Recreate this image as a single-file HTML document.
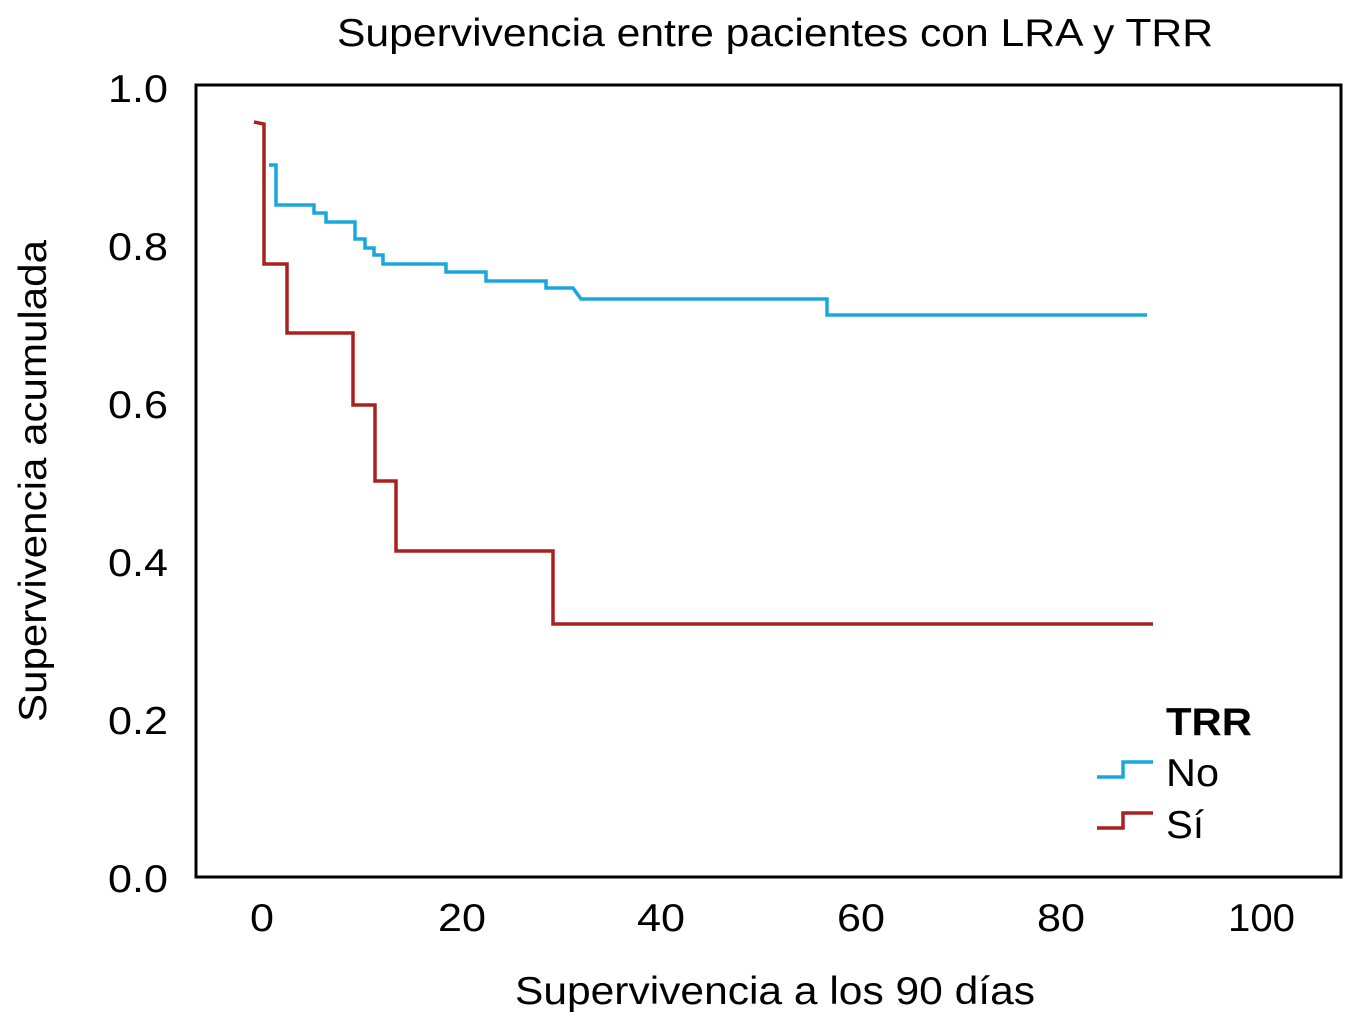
<!DOCTYPE html>
<html><head><meta charset="utf-8"><style>html,body{margin:0;padding:0;background:#fff}</style></head>
<body>
<svg width="1356" height="1024" xmlns="http://www.w3.org/2000/svg" font-family="Liberation Sans, Arial, sans-serif">
<rect width="1356" height="1024" fill="#fff"/>
<text x="337" y="46" font-size="39" textLength="876" lengthAdjust="spacingAndGlyphs" fill="#000">Supervivencia entre pacientes con LRA y TRR</text>
<rect x="196" y="85" width="1145" height="792" fill="none" stroke="#000" stroke-width="3"/>
<g font-size="39" fill="#000">
<text x="108" y="102" textLength="60" lengthAdjust="spacingAndGlyphs">1.0</text>
<text x="108" y="260" textLength="60" lengthAdjust="spacingAndGlyphs">0.8</text>
<text x="108" y="418" textLength="60" lengthAdjust="spacingAndGlyphs">0.6</text>
<text x="108" y="576" textLength="60" lengthAdjust="spacingAndGlyphs">0.4</text>
<text x="108" y="734" textLength="60" lengthAdjust="spacingAndGlyphs">0.2</text>
<text x="108" y="892" textLength="60" lengthAdjust="spacingAndGlyphs">0.0</text>
</g>
<g font-size="39" fill="#000">
<text x="250" y="931" textLength="24" lengthAdjust="spacingAndGlyphs">0</text>
<text x="438" y="931" textLength="48" lengthAdjust="spacingAndGlyphs">20</text>
<text x="637" y="931" textLength="48" lengthAdjust="spacingAndGlyphs">40</text>
<text x="837" y="931" textLength="48" lengthAdjust="spacingAndGlyphs">60</text>
<text x="1037" y="931" textLength="48" lengthAdjust="spacingAndGlyphs">80</text>
<text x="1228" y="931" textLength="67" lengthAdjust="spacingAndGlyphs">100</text>
</g>
<text x="515" y="1004" font-size="39" textLength="520" lengthAdjust="spacingAndGlyphs" fill="#000">Supervivencia a los 90 días</text>
<text transform="translate(46,722) rotate(-90)" font-size="39" textLength="482" lengthAdjust="spacingAndGlyphs" fill="#000">Supervivencia acumulada</text>
<path d="M269,165 H276 V205 H314 V213 H326 V222 H355 V239 H365 V248 H374 V255 H383 V264 H446 V272 H486 V281 H546 V288 H573 L581,299 H827 V315 H1147" fill="none" stroke="#1aa7de" stroke-width="3.5"/>
<path d="M254,122 L264,124 V264 H287 V333 H353 V405 H375 V481 H396 V551 H553 V624 H1153" fill="none" stroke="#a8201f" stroke-width="3.5"/>
<text x="1166" y="735" font-size="39" font-weight="bold" textLength="86" lengthAdjust="spacingAndGlyphs" fill="#000">TRR</text>
<path d="M1097,777 H1123 V762 H1153" fill="none" stroke="#1aa7de" stroke-width="3.5"/>
<text x="1166" y="786" font-size="39" textLength="53" lengthAdjust="spacingAndGlyphs" fill="#000">No</text>
<path d="M1097,828 H1123 V813 H1153" fill="none" stroke="#a8201f" stroke-width="3.5"/>
<text x="1166" y="838" font-size="39" textLength="38" lengthAdjust="spacingAndGlyphs" fill="#000">Sí</text>
</svg>
</body></html>
